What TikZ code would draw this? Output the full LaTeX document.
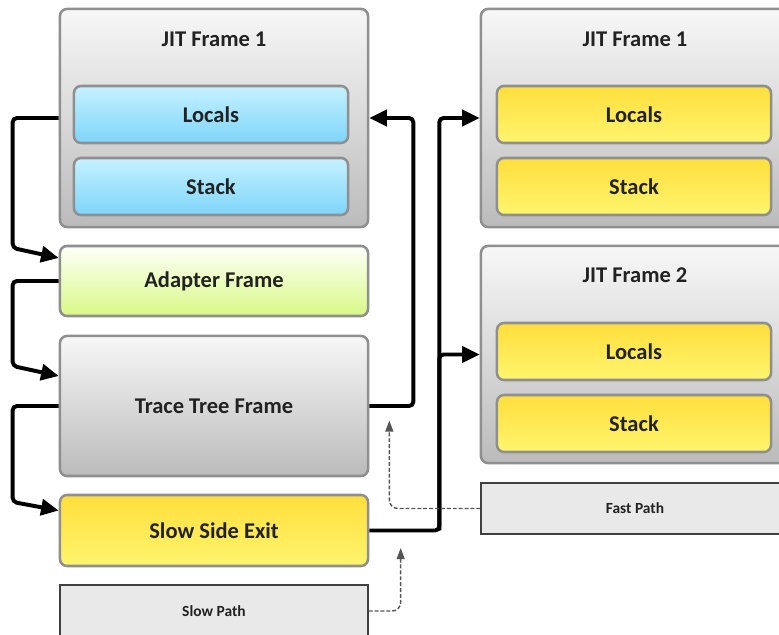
\documentclass[tikz,border=0pt]{standalone}
\usepackage{fontspec}
\setmainfont{Carlito}
\usetikzlibrary{arrows.meta,calc}

\definecolor{frameline}{HTML}{8F8F8F}
\definecolor{textdark}{HTML}{222222}
\definecolor{grayhi}{HTML}{F7F7F7}
\definecolor{graylo}{HTML}{BBBBBB}
\definecolor{bluehi}{HTML}{C6F1FF}
\definecolor{bluelo}{HTML}{7DD5FA}
\definecolor{yellowhi}{HTML}{FFDE3C}
\definecolor{yellowlo}{HTML}{FFF56E}
\definecolor{greenhi}{HTML}{FEFFF9}
\definecolor{greenlo}{HTML}{D8F985}
\definecolor{notefill}{HTML}{E9E9E9}
\definecolor{noteline}{HTML}{404040}
\definecolor{hintgray}{HTML}{555555}

\begin{document}
\begin{tikzpicture}
[
  x=0.025cm, y=-0.025cm,
  box/.style={draw=frameline, line width=1.8pt, rounded corners=5pt, inner sep=0pt,
    font=\bfseries\fontsize{16}{19}\selectfont, text=textdark},
  frame/.style={box, top color=grayhi, bottom color=graylo, minimum width=7.7cm},
  slot/.style={box, minimum width=6.85cm, minimum height=1.425cm},
  bluebox/.style={slot, top color=bluehi, bottom color=bluelo},
  yellowbox/.style={slot, top color=yellowhi, bottom color=yellowlo},
  title/.style={font=\bfseries\fontsize{16}{19}\selectfont, text=textdark, inner sep=0pt},
  note/.style={draw=noteline, line width=0.9pt, fill=notefill, minimum width=7.7cm,
    font=\bfseries\fontsize{11}{13}\selectfont, text=textdark},
  flow/.style={line width=2.8pt, rounded corners=3pt, -{Triangle[length=0.44cm,width=0.4cm]}},
  hint/.style={draw=hintgray, line width=1pt, dash pattern=on 2.8pt off 1.4pt,
    rounded corners=6pt, -{Triangle[length=0.28cm,width=0.2cm]}}
]
  \useasboundingbox (0,0) rectangle (779,635);

  \node[frame, minimum height=5.45cm] (jitA) at (214,118) {};
  \node[title] (jitAname) at (214,39) {JIT Frame 1};
  \node[bluebox] (localsA) at (211,114.5) {Locals};
  \node[bluebox] (stackA) at (211,186.5) {Stack};
  \node[frame, top color=greenhi, bottom color=greenlo, minimum height=1.75cm] (adapter) at (214,281) {Adapter Frame};
  \node[frame, minimum height=3.5cm] (trace) at (214,406) {Trace Tree Frame};
  \node[frame, top color=yellowhi, bottom color=yellowlo, minimum height=1.775cm] (exit) at (214,530.5) {Slow Side Exit};
  \node[note, minimum height=1.3cm] (slowpath) at (214,611) {Slow Path};

  \node[frame, minimum height=5.45cm] (jitB) at (635,118) {};
  \node[title] (jitBname) at (635,39) {JIT Frame 1};
  \node[yellowbox] (localsB) at (634,114.5) {Locals};
  \node[yellowbox] (stackB) at (634,186.5) {Stack};
  \node[frame, minimum height=5.425cm] (jitC) at (635,354.5) {};
  \node[title] (jitCname) at (635,275) {JIT Frame 2};
  \node[yellowbox] (localsC) at (634,351.5) {Locals};
  \node[yellowbox] (stackC) at (634,423.5) {Stack};
  \node[note, minimum height=1.275cm] (fastpath) at (635,508.5) {Fast Path};

  \draw[flow] (jitA.west) -- ++(-46,0) -- ++(0,130) -- ($(adapter.west)+(0,-23)$);
  \draw[flow] (adapter.west) -- ++(-46,0) -- ++(0,85) -- ($(trace.west)+(0,-30)$);
  \draw[flow] (trace.west) -- ++(-46,0) -- ++(0,96) -- ($(exit.west)+(0,-20)$);
  \draw[flow] (trace.east) -- ++(44,0) |- (jitA.east);
  \draw[flow] (exit.east) -- ++(70,0) |- (jitB.west);
  \draw[flow] ($(exit.east)+(70,0)$) |- (jitC.west);

  \draw[hint] (fastpath.west) -| ++(-91,-88);
  \draw[hint] (slowpath.east) -| ++(32,-63);
\end{tikzpicture}
\end{document}
